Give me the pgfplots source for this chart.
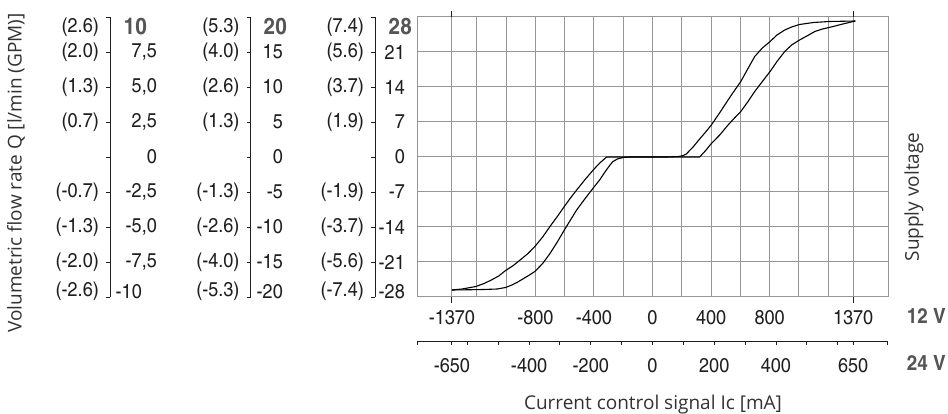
\documentclass[border=0pt]{standalone}
\usepackage{pgfplots}
\pgfplotsset{compat=1.18}
\usepackage{fontspec}
\setmainfont{Open Sans}
\newfontfamily\cond{texgyreheroscn-regular.otf}[FakeStretch=1.1, BoldFont=texgyreheroscn-bold.otf]
\definecolor{gridc}{RGB}{150,150,150}
\definecolor{boldc}{RGB}{85,85,85}
\definecolor{txt}{RGB}{30,30,30}
\definecolor{ttl}{RGB}{50,50,50}
\newcommand{\tl}{\cond\fontsize{20}{20}\selectfont}
\newcommand{\bl}[1]{{\fontsize{23}{23}\selectfont\bfseries\color{boldc}#1}}
\newcommand{\dn}[1]{\raisebox{-10pt}[\height][\depth]{#1}}
\newcommand{\up}[1]{\raisebox{5.5pt}[\height][\depth]{#1}}
\pgfplotsset{
  scalebar/.style={scale only axis, width=10pt, height=280pt,
    xmin=0, xmax=1, ymin=-28, ymax=28,
    hide x axis, axis y line=left, y axis line style={-, draw=txt, line width=0.9pt},
    ytick={-28,-21,-14,-7,0,7,14,21,28}, yticklabels={,,,,,,,,}, tick align=outside,
    major tick length=4pt, major tick style={draw=txt, line width=0.9pt}, anchor=south west},
  labelsonly/.style={scale only axis, width=10pt, height=280pt,
    xmin=0, xmax=1, ymin=-28, ymax=28,
    hide x axis, axis y line=left, y axis line style={draw=none},
    ytick={-28,-21,-14,-7,0,7,14,21,28}, major tick length=0pt,
    yticklabel style={font=\tl, text=txt, anchor=east, inner sep=0pt, xshift=#1},
    anchor=south west},
}
\begin{document}
\begin{tikzpicture}
\path[use as bounding box] (0pt,0pt) rectangle (948pt,414pt);

% ---- scale 1 (10 l/min) ----
\begin{axis}[scalebar, at={(110pt,117pt)}]\end{axis}
\begin{axis}[labelsonly=-11pt, at={(110pt,117pt)},
  yticklabels={\up{(-2.6)},(-2.0),(-1.3),(-0.7),,(0.7),(1.3),(2.0),\dn{(2.6)}}]\end{axis}
\begin{axis}[labelsonly=47pt, at={(110pt,117pt)},
  yticklabels={\up{-10\hspace{15pt}},{-7,5},{-5,0},{-2,5},0\hspace{15pt},{2,5},{5,0},{7,5},\dn{\bl{10}\hspace{10pt}}}]\end{axis}

% ---- scale 2 (20 l/min) ----
\begin{axis}[scalebar, at={(250.7pt,117pt)}]\end{axis}
\begin{axis}[labelsonly=-11pt, at={(250.7pt,117pt)},
  yticklabels={\up{(-5.3)},(-4.0),(-2.6),(-1.3),,(1.3),(2.6),(4.0),\dn{(5.3)}}]\end{axis}
\begin{axis}[labelsonly=32.3pt, at={(250.7pt,117pt)},
  yticklabels={\up{-20},-15,-10,-5,0,5,10,15,\dn{\bl{20}\hspace{-4pt}}}]\end{axis}

% ---- scale 3 (28 l/min) ----
\begin{axis}[scalebar, at={(375pt,117pt)}]\end{axis}
\begin{axis}[labelsonly=-11pt, at={(375pt,117pt)},
  yticklabels={\up{(-7.4)},(-5.6),(-3.7),(-1.9),,(1.9),(3.7),(5.6),\dn{(7.4)}}]\end{axis}

% ---- main chart ----
\begin{axis}[at={(417pt,117pt)}, anchor=south west, scale only axis,
  width=471pt, height=280pt,
  xmin=-1608, xmax=1608, ymin=-28, ymax=28,
  axis line style={draw=gridc, line width=1pt},
  xtick={-1370,-800,-400,0,400,800,1370},
  xticklabels={-1370,-800,-400,0,400,800,1370},
  minor xtick={-1200,-1000,...,1200},
  xmajorgrids, xminorgrids, ymajorgrids,
  ytick={-28,-21,-14,-7,0,7,14,21,28},
  yticklabels={\up{-28},-21,-14,-7,0,7,14,21,\dn{\bl{28}\hspace{-7pt}}},
  major tick length=0pt, minor tick length=0pt,
  major grid style={draw=gridc, line width=1pt},
  minor grid style={draw=gridc, line width=1pt},
  xticklabel style={font=\tl, text=txt, anchor=center, inner sep=0pt, yshift=-21pt},
  yticklabel style={font=\tl, text=txt, anchor=east, inner sep=0pt, xshift=-12pt},
  extra x ticks={-1370,1370}, extra x tick labels={},
  extra x tick style={grid=none, major tick length=6pt, tick align=outside,
    major tick style={draw=txt, line width=0.9pt}},
]
% increasing control signal
\addplot[black, line width=1.1pt] table {
-1370 -26.6
-1250 -26.55
-1150 -26.5
-1060 -26.4
-1003 -26.1
-960 -25.6
-920 -25.0
-880 -24.3
-840 -23.6
-803 -22.9
-750 -21.3
-700 -19.3
-650 -17.0
-602 -14.6
-560 -12.6
-518 -10.6
-460 -8.3
-402 -6.1
-361 -4.6
-320 -2.8
-290 -1.6
-270 -0.9
-240 -0.4
-200 -0.1
-156 0
0 0
200 0
322 0
360 1.2
402 2.7
459 4.4
516 6.4
560 7.8
603 9.1
650 11.0
698 13.1
750 15.1
803 17.1
850 19.1
903 21.1
950 22.4
1004 23.4
1060 24.3
1109 25.1
1160 25.6
1206 25.9
1260 26.3
1300 26.6
1385 27.2
};
% decreasing control signal
\addplot[black, line width=1.1pt] table {
-1370 -26.6
-1300 -26.4
-1206 -25.9
-1150 -25.3
-1100 -24.6
-1050 -23.8
-1003 -22.7
-950 -21.7
-900 -20.5
-850 -19.3
-803 -17.9
-750 -16.0
-700 -13.9
-650 -11.9
-602 -9.9
-560 -8.2
-518 -6.6
-463 -4.6
-402 -2.5
-360 -1.2
-313 0
0 0
100 0
180 0.1
210 0.3
231 0.6
280 2.1
322 3.6
360 4.9
402 6.4
460 8.9
516 11.4
560 13.3
603 15.1
650 17.6
698 20.1
750 21.8
803 23.1
850 24.4
903 25.4
950 26.0
1004 26.5
1100 26.9
1206 27.1
1300 27.15
1385 27.2
};
\end{axis}

% ---- 24 V scale ----
\begin{axis}[at={(417pt,73pt)}, anchor=south west, scale only axis,
  width=471pt, height=5pt,
  xmin=-763, xmax=763, ymin=0, ymax=1,
  hide y axis, axis x line=bottom, x axis line style={-, draw=txt, line width=0.9pt},
  xtick={-650,-400,-200,0,200,400,650},
  xticklabels={-650,-400,-200,0,200,400,650},
  minor xtick={-762,-600,-500,-300,-100,100,300,500,600,762},
  tick align=outside, major tick length=4pt, minor tick length=4pt,
  major tick style={draw=txt, line width=0.9pt}, minor tick style={draw=txt, line width=0.9pt},
  xticklabel style={font=\tl, text=txt, anchor=center, inner sep=0pt, yshift=-21pt},
]
\end{axis}

% ---- texts ----
\node[font=\fontsize{19}{19}\selectfont, text=ttl, rotate=90, anchor=east, inner sep=0pt]
  at (16pt,401pt) {Volumetric flow rate Q [l/min (GPM)]};
\node[font=\fontsize{19}{19}\selectfont, text=ttl, rotate=90, anchor=center, inner sep=0pt]
  at (914pt,217pt) {Supply voltage};
\node[font=\fontsize{19}{19}\selectfont, text=ttl, anchor=base, inner sep=0pt]
  at (653pt,4pt) {Current control signal Ic [mA]};
\node[font=\cond\fontsize{21}{21}\selectfont\bfseries, text=boldc, anchor=west, inner sep=0pt]
  at (906.7pt,98.5pt) {12 V};
\node[font=\cond\fontsize{21}{21}\selectfont\bfseries, text=boldc, anchor=west, inner sep=0pt]
  at (906.7pt,51.5pt) {24 V};
\end{tikzpicture}
\end{document}
